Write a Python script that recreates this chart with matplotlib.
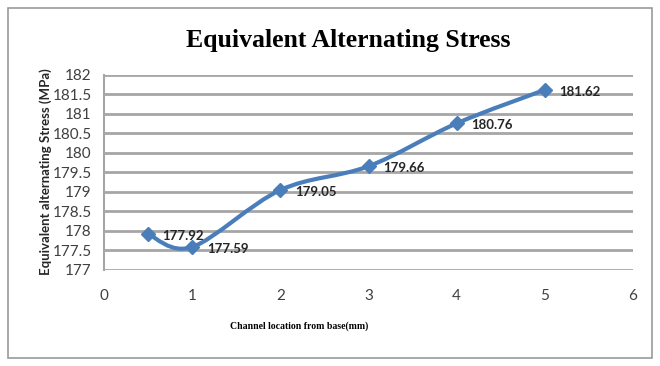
import numpy as np
import matplotlib
matplotlib.use("Agg")
import matplotlib.pyplot as plt
from matplotlib.path import Path
from matplotlib.patches import PathPatch, Rectangle

# Data
location = [0.5, 1, 2, 3, 4, 5]
stress = [177.92, 177.59, 179.05, 179.66, 180.76, 181.62]
x_ticks = [0, 1, 2, 3, 4, 5, 6]
y_ticks = [177, 177.5, 178, 178.5, 179, 179.5, 180, 180.5, 181, 181.5, 182]
y_ticklabels = ["177", "177.5", "178", "178.5", "179", "179.5", "180",
                "180.5", "181", "181.5", "182"]

BLUE = "#4a7ebb"
GRID = "#a6a6a6"


def smooth_path(xs, ys):
    """
    Excel-style smoothed line: cubic Bezier segments through every point.
    """
    pts = np.column_stack([xs, ys])
    n = len(pts)
    verts, codes = [pts[0]], [Path.MOVETO]
    for i in range(n - 1):
        p0 = pts[max(i - 1, 0)]
        p1, p2 = pts[i], pts[i + 1]
        p3 = pts[min(i + 2, n - 1)]
        c1 = p1 + (p2 - p0) / 6
        c2 = p2 - (p3 - p1) / 6
        verts += [c1, c2, p2]
        codes += [Path.CURVE4] * 3
    return Path(verts, codes)


fig = plt.figure(figsize=(6.6, 3.66), dpi=100)
fig.patch.set_facecolor("white")
fig.patches.append(Rectangle((8 / 660, 8 / 366), 644 / 660, 350 / 366,
                             transform=fig.transFigure, fill=False,
                             edgecolor="#9a9a9a", lw=1.2))

ax = fig.add_axes([104 / 660, 96 / 366, 529 / 660, 195 / 366])
ax.set_xlim(0, 6)
ax.set_ylim(177, 182)
ax.set_xticks(x_ticks)
ax.set_yticks(y_ticks)
ax.set_yticklabels(y_ticklabels)
ax.yaxis.grid(True, color=GRID, lw=2)
ax.set_axisbelow(True)
for side in ["top", "right", "bottom"]:
    ax.spines[side].set_visible(False)
ax.spines["left"].set_color(GRID)
ax.spines["left"].set_linewidth(1.5)
ax.tick_params(length=0, labelsize=11, colors="#404040", pad=9)
ax.tick_params(axis="x", pad=14)
for lab in ax.get_xticklabels() + ax.get_yticklabels():
    lab.set_family("Lato")

ax.add_patch(PathPatch(smooth_path(location, stress), fill=False,
                       edgecolor=BLUE, lw=3, capstyle="round", zorder=3))
ax.plot(location, stress, ls="none", marker="D", ms=7, color=BLUE, zorder=4)

for x, y in zip(location, stress):
    ax.annotate(f"{y:.2f}", (x, y), xytext=(10.5, -1.5), textcoords="offset points",
                va="center", ha="left", fontsize=9.5, fontweight="bold",
                family="Lato", color="#262626", zorder=5)

fig.text(348 / 660, 1 - 41 / 366, "Equivalent Alternating Stress",
         ha="center", va="center", fontsize=18.5, fontweight="bold",
         family="Liberation Serif")
fig.text(299 / 660, 1 - 326 / 366, "Channel location from base(mm)",
         ha="center", va="center", fontsize=7, fontweight="bold",
         family="Liberation Serif")
fig.text(46 / 660, 1 - 172 / 366, "Equivalent alternating Stress (MPa)",
         ha="center", va="center", rotation=90, fontsize=9.5,
         fontweight="bold", family="Lato", color="#262626")

fig.savefig("out.png", dpi=100)
